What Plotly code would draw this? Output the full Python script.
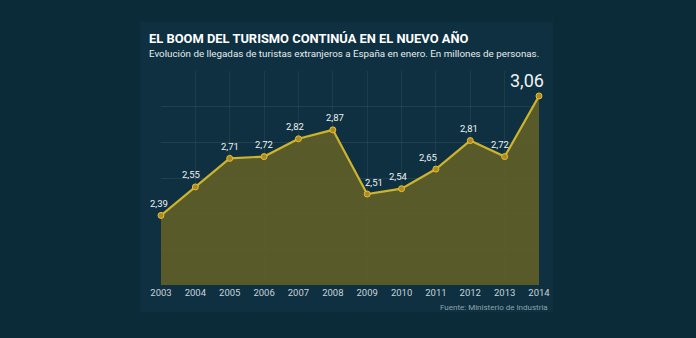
import plotly.graph_objects as go

years = [2003, 2004, 2005, 2006, 2007, 2008, 2009, 2010, 2011, 2012, 2013, 2014]
values = [2.39, 2.55, 2.71, 2.72, 2.82, 2.87, 2.51, 2.54, 2.65, 2.81, 2.72, 3.06]
labels = ["2,39", "2,55", "2,71", "2,72", "2,82", "2,87", "2,51", "2,54", "2,65", "2,81", "2,72", "3,06"]
label_xshift = [-2, -4, 0, 0, -3, 2, 7, -3, -8, -1, -5, -12]

title = "EL BOOM DEL TURISMO CONTINÚA EN EL NUEVO AÑO"
subtitle = "Evolución de llegadas de turistas extranjeros a España en enero. En millones de personas."
source = "Fuente: Ministerio de Industria"

FONT = "Roboto, sans-serif"
BG = "#0b2b39"

fig = go.Figure()
fig.add_trace(go.Scatter(
    x=years, y=values, mode="lines+markers",
    line=dict(color="#cdb42e", width=2.2),
    marker=dict(size=6, color="#b08a1c", line=dict(color="#e0c040", width=1)),
    fill="tozeroy", fillcolor="rgba(96,94,40,0.92)",
    cliponaxis=False, hoverinfo="skip", showlegend=False,
))

annotations = []
for x, y, t, dx in zip(years, values, labels, label_xshift):
    big = (x == years[-1])
    annotations.append(dict(
        x=x, y=y, text=t, showarrow=False, xref="x", yref="y",
        xshift=dx, yshift=(15 if big else 12), yanchor="middle",
        font=dict(family=FONT, size=(18 if big else 9.5), color="#eef3f5"),
    ))

annotations.append(dict(
    x=-0.037, y=1.154, xref="paper", yref="paper", xanchor="left", yanchor="middle",
    text="<b>" + title + "</b>", showarrow=False,
    font=dict(family=FONT, size=12.9, color="#ffffff"),
))
annotations.append(dict(
    x=-0.037, y=1.084, xref="paper", yref="paper", xanchor="left", yanchor="middle",
    text=subtitle, showarrow=False,
    font=dict(family=FONT, size=9.8, color="#e4ecef"),
))
annotations.append(dict(
    x=1.029, y=-0.103, xref="paper", yref="paper", xanchor="right", yanchor="middle",
    text=source, showarrow=False,
    font=dict(family=FONT, size=8, color="#8fa2ac"),
))

fig.update_layout(
    width=696, height=338,
    margin=dict(l=161, r=157, t=71, b=53),
    paper_bgcolor=BG, plot_bgcolor="rgba(0,0,0,0)",
    annotations=annotations,
    shapes=[dict(type="rect", xref="paper", yref="paper", layer="below",
                 x0=-0.0556, x1=1.037, y0=-0.126, y1=1.23,
                 fillcolor="#0e3040", line=dict(width=0))],
    xaxis=dict(range=[2003, 2014], tickmode="array", tickvals=years,
               ticktext=[str(y) for y in years], showgrid=True,
               gridcolor="rgba(255,255,255,0.06)", gridwidth=1,
               zeroline=False, showline=False, ticks="",
               tickfont=dict(family=FONT, size=9.5, color="#c9d3d9")),
    yaxis=dict(range=[2.0, 3.2], dtick=0.2, tick0=2.0, showgrid=True,
               gridcolor="rgba(255,255,255,0.08)", gridwidth=1,
               zeroline=False, showline=False, showticklabels=False, ticks=""),
)

fig.write_html("out.html")
